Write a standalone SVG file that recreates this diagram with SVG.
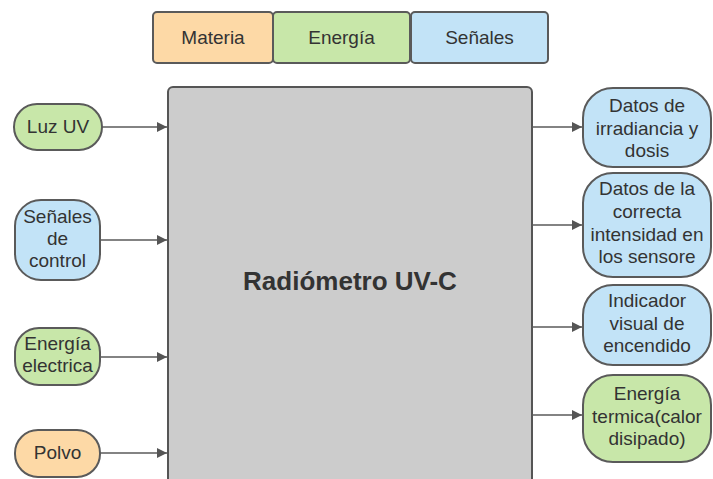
<svg xmlns="http://www.w3.org/2000/svg" width="713" height="479" viewBox="0 0 713 479">
<defs>
<style>
.t{font-family:"Liberation Sans",Arial,sans-serif;font-size:19px;fill:#333;text-anchor:middle}
.b{font-family:"Liberation Sans",Arial,sans-serif;font-size:26px;font-weight:bold;fill:#333;text-anchor:middle}
.n{stroke:#5a5a5a;stroke-width:2}
.g{fill:#c8e7a9}
.o{fill:#fdd9a6}
.s{fill:#c2e3f7}
.c{stroke:#5a5a5a;stroke-width:1.6;fill:none}
</style>
<marker id="ah" viewBox="0 0 10 10" refX="10" refY="5" markerWidth="15" markerHeight="10" markerUnits="userSpaceOnUse" orient="auto">
<path d="M0,0 L10,5 L0,10 z" fill="#555"/>
</marker>
</defs>
<rect width="713" height="479" fill="#ffffff"/>
<g id="legend">
<g id="leg-materia"><rect class="n o" x="153" y="12" width="120" height="51" rx="4"/><text class="t" x="213" y="44">Materia</text></g>
<g id="leg-energia"><rect class="n g" x="273" y="12" width="137" height="51" rx="4"/><text class="t" x="341.5" y="44">Energía</text></g>
<g id="leg-senales"><rect class="n s" x="411" y="12" width="137" height="51" rx="4"/><text class="t" x="479.5" y="44">Señales</text></g>
</g>
<g id="main">
<rect x="168" y="87" width="364" height="420" rx="5" fill="#cccccc" stroke="#555" stroke-width="2"/>
<text class="b" x="350" y="290">Radiómetro UV-C</text>
</g>
<g id="connectors">
<line class="c" x1="102" y1="127" x2="167" y2="127" marker-end="url(#ah)"/>
<line class="c" x1="100" y1="240" x2="167" y2="240" marker-end="url(#ah)"/>
<line class="c" x1="100" y1="357" x2="167" y2="357" marker-end="url(#ah)"/>
<line class="c" x1="100" y1="453" x2="167" y2="453" marker-end="url(#ah)"/>
<line class="c" x1="532" y1="127" x2="582" y2="127" marker-end="url(#ah)"/>
<line class="c" x1="532" y1="225" x2="582" y2="225" marker-end="url(#ah)"/>
<line class="c" x1="532" y1="327" x2="582" y2="327" marker-end="url(#ah)"/>
<line class="c" x1="532" y1="415" x2="582" y2="415" marker-end="url(#ah)"/>
</g>
<g id="luz-uv"><rect class="n g" x="14" y="104" width="88" height="46" rx="23"/><text class="t" x="58" y="133">Luz UV</text></g>
<g id="senales-control"><rect class="n s" x="15" y="200" width="85" height="80" rx="26"/>
<text class="t" x="57.5" y="223">Señales</text><text class="t" x="57.5" y="245">de</text><text class="t" x="57.5" y="267">control</text></g>
<g id="energia-electrica"><rect class="n g" x="15" y="328" width="85" height="57" rx="24"/>
<text class="t" x="57.5" y="350">Energía</text><text class="t" x="57.5" y="372">electrica</text></g>
<g id="polvo"><rect class="n o" x="15" y="430" width="85" height="47" rx="23"/><text class="t" x="57.5" y="459">Polvo</text></g>
<g id="datos-irradiancia"><rect class="n s" x="583" y="88" width="128" height="79" rx="30"/>
<text class="t" x="647" y="112">Datos de</text><text class="t" x="647" y="134.5">irradiancia y</text><text class="t" x="647" y="157">dosis</text></g>
<g id="datos-intensidad"><rect class="n s" x="583" y="173" width="128" height="104" rx="30"/>
<text class="t" x="647" y="195">Datos de la</text><text class="t" x="647" y="218">correcta</text><text class="t" x="647" y="241">intensidad en</text><text class="t" x="647" y="263">los sensore</text></g>
<g id="indicador"><rect class="n s" x="583" y="285" width="128" height="80" rx="30"/>
<text class="t" x="647" y="307">Indicador</text><text class="t" x="647" y="330">visual de</text><text class="t" x="647" y="352">encendido</text></g>
<g id="energia-termica"><rect class="n g" x="583" y="375" width="128" height="87" rx="30"/>
<text class="t" x="647" y="400">Energía</text><text class="t" x="647" y="423">termica(calor</text><text class="t" x="647" y="445">disipado)</text></g>
</svg>
